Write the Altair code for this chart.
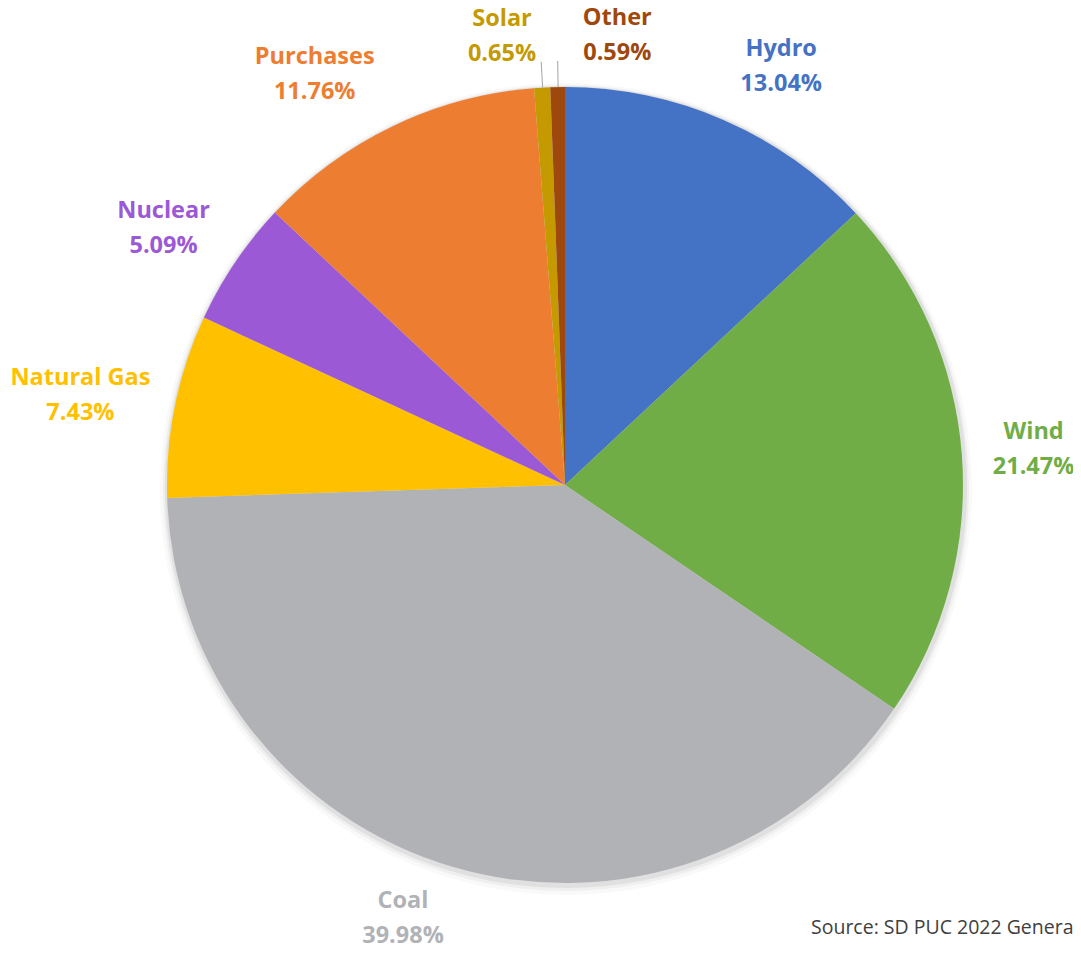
import altair as alt
import pandas as pd

# ---- data ----
categories = ["Hydro", "Wind", "Coal", "Natural Gas", "Nuclear", "Purchases", "Solar", "Other"]
shares = [13.04, 21.47, 39.98, 7.43, 5.09, 11.76, 0.65, 0.59]
source_text = "Source: SD PUC 2022 Genera"

# ---- styles ----
slice_colors = ["#4472C4", "#70AD47", "#B1B2B6", "#FFC000", "#9B59D6", "#ED7D31", "#C49A00", "#9E480E"]
label_colors = ["#4472C4", "#70AD47", "#B1B2B6", "#FFC000", "#9B59D6", "#ED7D31", "#C49A00", "#9E480E"]
LINE_H = 35
label_nudge = {
    "Hydro": (29, 13),
    "Wind": (0, 1),
    "Coal": (-31, -18),
    "Natural Gas": (-24, 4),
    "Nuclear": (-12, 7),
    "Purchases": (-47, 13),
    "Solar": (-36, 21),
    "Other": (61, 20),
}
leader_cats = ["Solar", "Other"]

CX, CY = 557, 477
R = 398
FONT = "Open Sans"

df = pd.DataFrame({"category": categories, "share": shares, "idx": list(range(len(categories)))})
total = float(sum(shares))
theta_scale = alt.Scale(domain=[0, total])

base = alt.Chart(df).transform_window(
    cum_end="sum(share)", sort=[alt.SortField("idx")], frame=[None, 0]
).transform_calculate(
    start="datum.cum_end - datum.share",
    mid="datum.cum_end - datum.share / 2",
    mid_end="datum.cum_end - datum.share / 2 + 0.04",
    label="datum.category + '\\n' + format(datum.share, '.2f') + '%'",
)

shadow_layers = []
for r_extra, dxo, dyo, op in [(8, 1, 4, 0.025), (5, 1, 3, 0.04), (3, 1, 2, 0.06)]:
    shadow_layers.append(
        alt.Chart(df.head(1)).mark_arc(
            theta=0, theta2=6.2832, radius=R + r_extra, color="#000000", opacity=op
        ).encode(x=alt.value(CX + dxo), y=alt.value(CY + dyo))
    )

pie = base.mark_arc(radius=R).encode(
    theta=alt.Theta("start:Q", scale=theta_scale),
    theta2="cum_end:Q",
    color=alt.Color("category:N", scale=alt.Scale(domain=categories, range=slice_colors), legend=None),
    x=alt.value(CX),
    y=alt.value(CY),
)

leaders = base.transform_filter(
    alt.FieldOneOfPredicate(field="category", oneOf=leader_cats)
).mark_arc(radius=R + 26, radius2=R, color="#A6A6A6").encode(
    theta=alt.Theta("mid:Q", scale=theta_scale),
    theta2="mid_end:Q",
    x=alt.value(CX),
    y=alt.value(CY),
)

text_layers = []
for cat, col in zip(categories, label_colors):
    dx, dy = label_nudge[cat]
    text_layers.append(
        base.transform_filter(alt.datum.category == cat).mark_text(
            radius=470, dx=dx, dy=dy - LINE_H / 2, font=FONT, fontSize=23.5, fontWeight="bold",
            color=col, align="center", baseline="middle", lineBreak="\n", lineHeight=LINE_H,
        ).encode(
            theta=alt.Theta("mid:Q", scale=theta_scale),
            text="label:N",
            x=alt.value(CX),
            y=alt.value(CY),
        )
    )

source = alt.Chart(pd.DataFrame({"t": [source_text]})).mark_text(
    font="Open Sans", fontSize=19.5, color="#404040", align="left", baseline="alphabetic"
).encode(text="t:N", x=alt.value(803), y=alt.value(926))

chart = alt.layer(*shadow_layers, pie, leaders, *text_layers, source).properties(
    width=1065, height=937, autosize=alt.AutoSizeParams(type="none"), padding=0
).configure_view(stroke=None)

chart.save("out.html", embed_options={"renderer": "svg", "actions": False})
